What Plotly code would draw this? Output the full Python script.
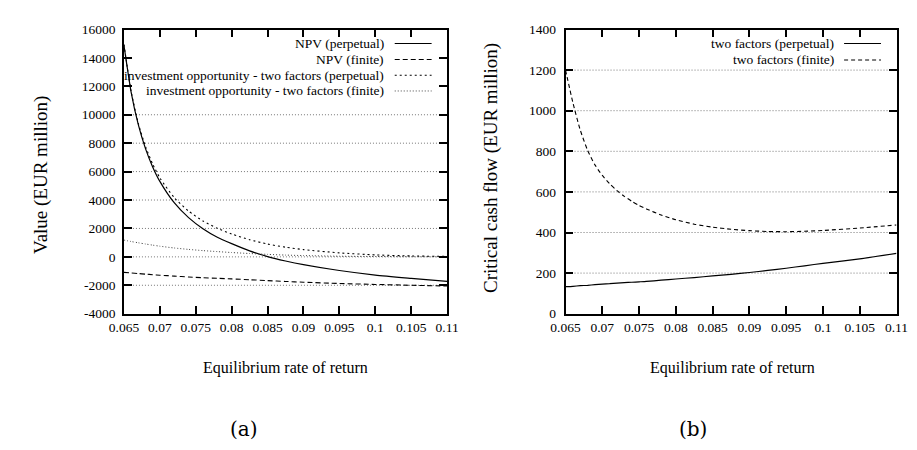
import plotly.graph_objects as go

# ---------------- data ----------------
# Panel (a): Value (EUR million) vs equilibrium rate of return
r_a = [0.065, 0.066, 0.067, 0.068, 0.069, 0.070, 0.072, 0.074, 0.076, 0.078,
       0.080, 0.0825, 0.085, 0.0875, 0.090, 0.095, 0.100, 0.105, 0.110]
npv_perpetual = [14900, 11600, 9300, 7620, 6330, 5310, 3810, 2760, 1980, 1380,
                 930, 420, 20, -290, -550, -960, -1280, -1510, -1720]
npv_finite = [-1090, -1135, -1175, -1215, -1255, -1290, -1355, -1415, -1465, -1510,
              -1550, -1610, -1670, -1730, -1785, -1875, -1940, -2000, -2055]
inv_perpetual = [14950, 11650, 9400, 7770, 6530, 5560, 4170, 3220, 2530, 2010,
                 1610, 1210, 900, 680, 510, 280, 140, 65, 30]
inv_finite = [1180, 1080, 990, 905, 825, 750, 625, 525, 440, 370,
              305, 235, 175, 125, 90, 45, 25, 12, 5]

# Panel (b): Critical cash flow (EUR million)
r_b = [0.065, 0.066, 0.067, 0.068, 0.069, 0.070, 0.071, 0.072, 0.073, 0.074,
       0.075, 0.076, 0.078, 0.080, 0.0825, 0.085, 0.0875, 0.090, 0.0925,
       0.095, 0.0975, 0.100, 0.105, 0.110]
cf_perpetual = [133, 135, 138, 140, 143, 146, 148, 151, 153, 155,
                157, 159, 165, 171, 178, 186, 194, 203, 213,
                224, 236, 248, 270, 297]
cf_finite = [1200, 1040, 905, 805, 733, 681, 640, 606, 578, 554,
             533, 516, 486, 463, 441, 426, 416, 409, 405,
             404, 406, 410, 422, 437]

x_ticks = [0.065, 0.07, 0.075, 0.08, 0.085, 0.09, 0.095, 0.1, 0.105, 0.11]
x_ticklabels = ["0.065", "0.07", "0.075", "0.08", "0.085", "0.09", "0.095", "0.1", "0.105", "0.11"]
ya_ticks = [-4000, -2000, 0, 2000, 4000, 6000, 8000, 10000, 12000, 14000, 16000]
ya_ticklabels = ["-4000", "-2000", "0", "2000", "4000", "6000", "8000", "10000", "12000", "14000", "16000"]
yb_ticks = [0, 200, 400, 600, 800, 1000, 1200, 1400]
yb_ticklabels = ["0", "200", "400", "600", "800", "1000", "1200", "1400"]
grid_a = [-2000, 0, 2000, 4000, 6000, 8000, 10000]
grid_b = [200, 400, 600, 800, 1000, 1200]

legend_a = ["NPV (perpetual)", "NPV (finite)",
            "investment opportunity - two factors (perpetual)",
            "investment opportunity - two factors (finite)"]
legend_b = ["two factors (perpetual)", "two factors (finite)"]

# ---------------- layout helpers ----------------
W, H = 917, 450
def px(x):
    return x / W
def py(y):
    return 1 - y / H

SERIF = "Liberation Serif"
BLACK = "#000000"

styles_a = [dict(color=BLACK, width=1.2, dash="solid"),
            dict(color=BLACK, width=1.1, dash="5px,3px"),
            dict(color=BLACK, width=1.1, dash="2px,3px"),
            dict(color="#444444", width=1.0, dash="1px,2px")]
styles_b = [dict(color=BLACK, width=1.2, dash="solid"),
            dict(color=BLACK, width=1.1, dash="4px,3px")]

fig = go.Figure()
for name, ys, st in zip(legend_a, [npv_perpetual, npv_finite, inv_perpetual, inv_finite], styles_a):
    fig.add_trace(go.Scatter(x=r_a, y=ys, mode="lines", name=name,
                             line=dict(shape="spline", smoothing=0.6, **st),
                             xaxis="x", yaxis="y", showlegend=False))
for name, ys, st in zip(legend_b, [cf_perpetual, cf_finite], styles_b):
    fig.add_trace(go.Scatter(x=r_b, y=ys, mode="lines", name=name,
                             line=dict(shape="spline", smoothing=0.6, **st),
                             xaxis="x2", yaxis="y2", showlegend=False))

axis_common = dict(showline=True, linecolor=BLACK, linewidth=1.5, mirror="allticks",
                   ticks="inside", ticklen=8, tickwidth=1.5, tickcolor=BLACK,
                   showgrid=False, zeroline=False,
                   tickfont=dict(family=SERIF, size=13.5, color=BLACK))

fig.update_layout(
    width=W, height=H,
    margin=dict(l=0, r=0, t=0, b=0),
    paper_bgcolor="white", plot_bgcolor="white",
    font=dict(family=SERIF, color=BLACK),
    xaxis=dict(domain=[px(104), px(437)], range=[0.065, 0.11], anchor="y",
               tickvals=x_ticks, ticktext=x_ticklabels, ticklabelstandoff=0, **axis_common),
    yaxis=dict(domain=[py(309), py(15)], range=[-4000, 16000], anchor="x",
               tickvals=ya_ticks, ticktext=ya_ticklabels, ticklabelstandoff=4, **axis_common),
    xaxis2=dict(domain=[px(559), px(900)], range=[0.065, 0.11], anchor="y2",
                tickvals=x_ticks, ticktext=x_ticklabels, ticklabelstandoff=0, **axis_common),
    yaxis2=dict(domain=[py(309), py(15)], range=[0, 1400], anchor="x2",
                tickvals=yb_ticks, ticktext=yb_ticklabels, ticklabelstandoff=5, **axis_common),
)

shapes = []
for g in grid_a:
    shapes.append(dict(type="line", xref="x domain", yref="y", x0=0, x1=1, y0=g, y1=g,
                       line=dict(color="#777777", width=1, dash="1px,2px"), layer="below"))
for g in grid_b:
    shapes.append(dict(type="line", xref="x2 domain", yref="y2", x0=0, x1=1, y0=g, y1=g,
                       line=dict(color="#777777", width=1, dash="1px,2px"), layer="below"))

annotations = []
# key for panel (a): text right-aligned, line sample at right
rows_a = [29.5, 46, 62.3, 78.6]
for name, st, yrow in zip(legend_a, styles_a, rows_a):
    annotations.append(dict(text=name, xref="paper", yref="paper", x=px(374), y=py(yrow),
                            xanchor="right", yanchor="middle", showarrow=False,
                            font=dict(family=SERIF, size=13.5, color=BLACK)))
    shapes.append(dict(type="line", xref="paper", yref="paper", x0=px(383), x1=px(421),
                       y0=py(yrow), y1=py(yrow), line=st))
rows_b = [29.5, 46.5]
for name, st, yrow in zip(legend_b, styles_b, rows_b):
    annotations.append(dict(text=name, xref="paper", yref="paper", x=px(838), y=py(yrow),
                            xanchor="right", yanchor="middle", showarrow=False,
                            font=dict(family=SERIF, size=13.5, color=BLACK)))
    shapes.append(dict(type="line", xref="paper", yref="paper", x0=px(846), x1=px(884),
                       y0=py(yrow), y1=py(yrow), line=st))

# axis titles
annotations.append(dict(text="Equilibrium rate of return", xref="paper", yref="paper",
                        x=px(270.5), y=py(365), xanchor="center", yanchor="middle", showarrow=False,
                        font=dict(family=SERIF, size=16, color=BLACK)))
annotations.append(dict(text="Equilibrium rate of return", xref="paper", yref="paper",
                        x=px(731), y=py(365), xanchor="center", yanchor="middle", showarrow=False,
                        font=dict(family=SERIF, size=16, color=BLACK)))
annotations.append(dict(text="Value (EUR million)", xref="paper", yref="paper",
                        x=px(18), y=py(165), xanchor="center", yanchor="middle", showarrow=False,
                        textangle=-90, font=dict(family=SERIF, size=19, color=BLACK)))
annotations.append(dict(text="Critical cash flow (EUR million)", xref="paper", yref="paper",
                        x=px(482), y=py(158.5), xanchor="center", yanchor="middle", showarrow=False,
                        textangle=-90, font=dict(family=SERIF, size=19, color=BLACK)))
# panel labels
annotations.append(dict(text="(a)", xref="paper", yref="paper", x=px(227.5), y=py(428),
                        xanchor="center", yanchor="middle", showarrow=False,
                        font=dict(family="DejaVu Serif", size=20, color=BLACK)))
annotations.append(dict(text="(b)", xref="paper", yref="paper", x=px(690), y=py(428),
                        xanchor="center", yanchor="middle", showarrow=False,
                        font=dict(family="DejaVu Serif", size=20, color=BLACK)))

fig.update_layout(shapes=shapes, annotations=annotations)
fig.write_html("out.html")
